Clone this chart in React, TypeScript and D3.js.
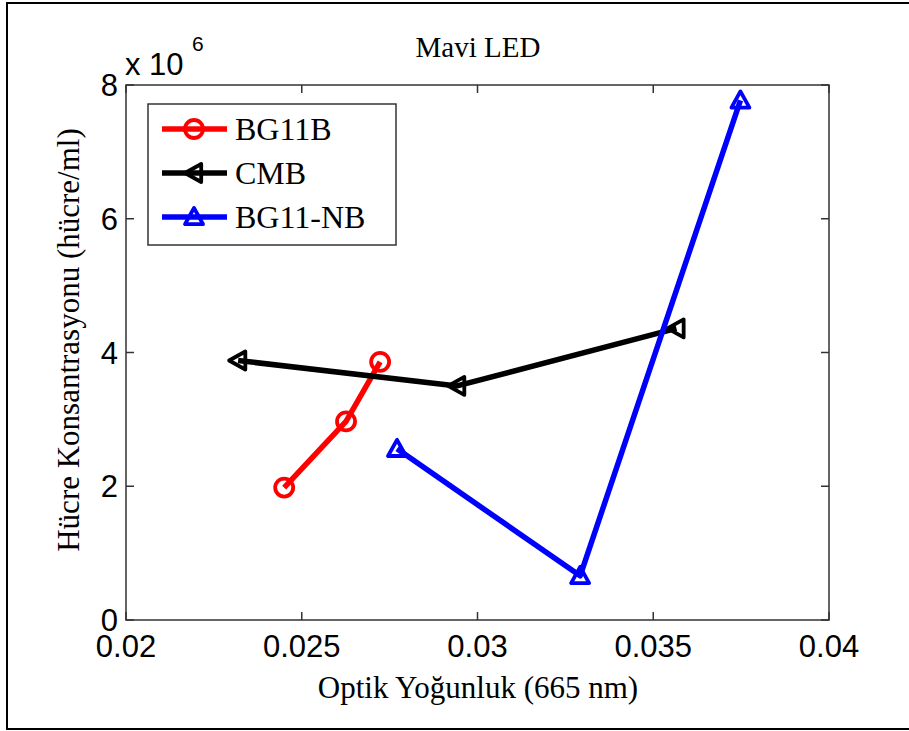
import React from "react";
import * as d3 from "d3";

const xTicks = [0.02, 0.025, 0.03, 0.035, 0.04];
const yTicks = [0, 2, 4, 6, 8];
const seriesNames = ["BG11B", "CMB", "BG11-NB"];
const seriesColors = ["#ff0000", "#000000", "#0000ff"];
const seriesMarkers = ["circle", "left", "up"];
const bg11bX = [0.0245, 0.02626, 0.02723];
const bg11bY = [1.98, 2.97, 3.86];
const cmbX = [0.02319, 0.02942, 0.03566];
const cmbY = [3.88, 3.5, 4.36];
const bg11nbX = [0.02771, 0.03292, 0.03748];
const bg11nbY = [2.56, 0.66, 7.77];

const W = 909;
const H = 731;
const M = { left: 126, right: 829, top: 85, bottom: 620 };

function Marker({ type, x, y, color }: { type: string; x: number; y: number; color: string }) {
  const sw = 3.8;
  if (type === "circle") {
    return <circle cx={x} cy={y} r={9} fill="none" stroke={color} strokeWidth={sw} />;
  }
  const s = 9;
  let pts: [number, number][];
  if (type === "left") {
    pts = [
      [x - s, y],
      [x + s * 0.8, y - s],
      [x + s * 0.8, y + s],
    ];
  } else {
    pts = [
      [x, y - s],
      [x - s, y + s * 0.8],
      [x + s, y + s * 0.8],
    ];
  }
  return (
    <polygon
      points={pts.map((p) => p.join(",")).join(" ")}
      fill="none"
      stroke={color}
      strokeWidth={sw}
      strokeLinejoin="round"
    />
  );
}

export default function App() {
  const x = d3.scaleLinear().domain([0.02, 0.04]).range([M.left, M.right]);
  const y = d3.scaleLinear().domain([0, 8]).range([M.bottom, M.top]);
  const line = d3
    .line<[number, number]>()
    .x((d) => x(d[0]))
    .y((d) => y(d[1]));

  const series = [
    { xs: bg11bX, ys: bg11bY },
    { xs: cmbX, ys: cmbY },
    { xs: bg11nbX, ys: bg11nbY },
  ];

  const sans = "'Liberation Sans', Arial, sans-serif";
  const serif = "'Liberation Serif', 'Times New Roman', serif";
  const axisColor = "#333";
  const tickLen = 8;

  const legendRows = [129, 173, 217];

  return (
    <svg
      width={W}
      height={H}
      style={{ position: "absolute", left: 0, top: 0, background: "#fff" }}
    >
      <rect x={0} y={0} width={W} height={H} fill="#fff" />
      <rect x={7} y={3} width={920} height={726} fill="none" stroke="#000" strokeWidth={2} />

      {/* title */}
      <text x={478} y={57} textAnchor="middle" fontFamily={serif} fontSize={29} fill="#000">
        Mavi LED
      </text>

      {/* axes box */}
      <rect
        x={M.left}
        y={M.top}
        width={M.right - M.left}
        height={M.bottom - M.top}
        fill="none"
        stroke={axisColor}
        strokeWidth={1.5}
      />

      {/* x ticks */}
      {xTicks.map((t) => (
        <g key={"xt" + t}>
          <line x1={x(t)} x2={x(t)} y1={M.bottom} y2={M.bottom - tickLen} stroke={axisColor} strokeWidth={1.5} />
          <line x1={x(t)} x2={x(t)} y1={M.top} y2={M.top + tickLen} stroke={axisColor} strokeWidth={1.5} />
          <text x={x(t)} y={657} textAnchor="middle" fontFamily={sans} fontSize={31} fill="#000">
            {String(t)}
          </text>
        </g>
      ))}

      {/* y ticks */}
      {yTicks.map((t) => (
        <g key={"yt" + t}>
          <line x1={M.left} x2={M.left + tickLen} y1={y(t)} y2={y(t)} stroke={axisColor} strokeWidth={1.5} />
          <line x1={M.right} x2={M.right - tickLen} y1={y(t)} y2={y(t)} stroke={axisColor} strokeWidth={1.5} />
          <text x={118} y={y(t) + 11} textAnchor="end" fontFamily={sans} fontSize={31} fill="#000">
            {String(t)}
          </text>
        </g>
      ))}

      {/* exponent */}
      <text x={125} y={75} fontFamily={sans} fontSize={31} fill="#000">
        x 10
      </text>
      <text x={192} y={51} fontFamily={sans} fontSize={21} fill="#000">
        6
      </text>

      {/* axis labels */}
      <text x={478} y={698} textAnchor="middle" fontFamily={serif} fontSize={31} fill="#000">
        Optik Yoğunluk (665 nm)
      </text>
      <text
        transform={`translate(79,340) rotate(-90)`}
        textAnchor="middle"
        fontFamily={serif}
        fontSize={31}
        fill="#000"
      >
        Hücre Konsantrasyonu (hücre/ml)
      </text>

      {/* series */}
      {series.map((s, i) => {
        const pts: [number, number][] = s.xs.map((v, j) => [v, s.ys[j]]);
        return (
          <g key={"s" + i}>
            <path d={line(pts) || ""} fill="none" stroke={seriesColors[i]} strokeWidth={5.5} strokeLinejoin="round" />
            {pts.map((p, j) => (
              <Marker key={j} type={seriesMarkers[i]} x={x(p[0])} y={y(p[1])} color={seriesColors[i]} />
            ))}
          </g>
        );
      })}

      {/* legend */}
      <rect x={148} y={104} width={248} height={141} fill="#fff" stroke={axisColor} strokeWidth={1.5} />
      {seriesNames.map((n, i) => (
        <g key={"lg" + i}>
          <line x1={162} x2={227} y1={legendRows[i]} y2={legendRows[i]} stroke={seriesColors[i]} strokeWidth={5.5} />
          <Marker type={seriesMarkers[i]} x={194} y={legendRows[i]} color={seriesColors[i]} />
          <text x={235} y={legendRows[i] + 11} fontFamily={serif} fontSize={32} fill="#000">
            {n}
          </text>
        </g>
      ))}
    </svg>
  );
}
